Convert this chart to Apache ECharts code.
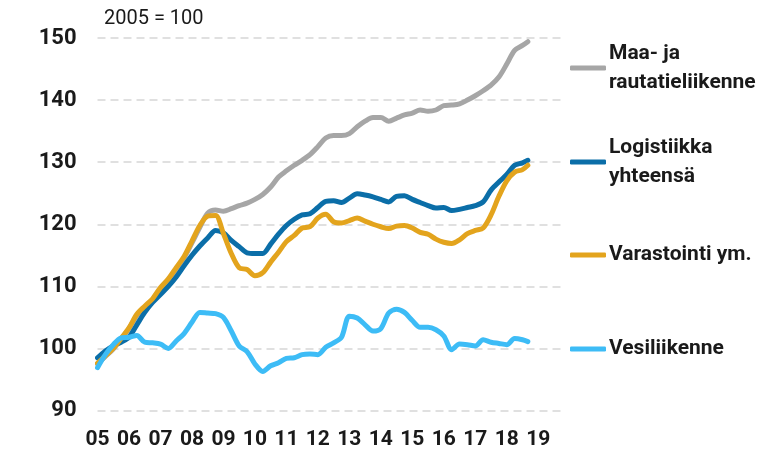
<!DOCTYPE html>
<html>
<head>
<meta charset="utf-8">
<script src="https://cdn.jsdelivr.net/npm/echarts@6/dist/echarts.min.js"></script>
<style>
  html, body { margin: 0; padding: 0; background: #fff; }
  #chart { width: 767px; height: 451px; }
</style>
</head>
<body>
<div id="chart"></div>
<script>
// aika (vuosi desimaalina, neljännesvuosittain)
const times = [
  2005.0, 2005.25, 2005.5, 2005.75, 2006.0, 2006.25, 2006.5, 2006.75,
  2007.0, 2007.25, 2007.5, 2007.75, 2008.0, 2008.25, 2008.5, 2008.75,
  2009.0, 2009.25, 2009.5, 2009.75, 2010.0, 2010.25, 2010.5, 2010.75,
  2011.0, 2011.25, 2011.5, 2011.75, 2012.0, 2012.25, 2012.5, 2012.75,
  2013.0, 2013.25, 2013.5, 2013.75, 2014.0, 2014.25, 2014.5, 2014.75,
  2015.0, 2015.25, 2015.5, 2015.75, 2016.0, 2016.25, 2016.5, 2016.75,
  2017.0, 2017.25, 2017.5, 2017.75, 2018.0, 2018.25, 2018.5, 2018.67
]

const maaJaRautatie = [
  97.5, 98.7, 99.9, 101.5, 103.2, 105.3, 106.6, 107.8,
  109.6, 111.0, 112.8, 114.6, 117.0, 119.5, 121.8, 122.3,
  122.1, 122.5, 123.0, 123.4, 124.0, 124.8, 126.0, 127.6,
  128.6, 129.5, 130.3, 131.2, 132.5, 133.9, 134.3, 134.3,
  134.6, 135.7, 136.6, 137.2, 137.2, 136.6, 137.1, 137.6,
  137.9, 138.4, 138.2, 138.4, 139.1, 139.2, 139.4, 140.0,
  140.7, 141.5, 142.4, 143.7, 145.8, 148.0, 148.8, 149.4
]

const logistiikka = [
  98.5, 99.6, 100.4, 101.0, 101.8, 103.8, 105.8, 107.4,
  108.7, 110.0, 111.5, 113.3, 115.0, 116.5, 117.8, 119.0,
  118.6, 117.4, 116.4, 115.4, 115.3, 115.3, 116.8, 118.4,
  119.8, 120.8, 121.5, 121.7, 122.7, 123.7, 123.8, 123.5,
  124.2, 124.9, 124.7, 124.4, 124.0, 123.6, 124.5, 124.6,
  124.0, 123.5, 123.0, 122.6, 122.7, 122.2, 122.4, 122.7,
  123.0, 123.6, 125.5, 126.8, 128.0, 129.5, 129.9, 130.3
]

const varastointi = [
  97.6, 98.8, 100.0, 101.6, 103.3, 105.5, 106.8, 108.0,
  109.8, 111.2, 113.0, 114.8, 117.3, 119.8, 121.3, 121.4,
  118.5, 115.3, 113.0, 112.7, 111.7, 112.2, 113.9, 115.5,
  117.2, 118.2, 119.4, 119.6, 121.0, 121.6, 120.4, 120.2,
  120.6, 121.0, 120.5, 120.0, 119.6, 119.3, 119.7, 119.8,
  119.4, 118.7, 118.4, 117.6, 117.1, 116.9, 117.5, 118.5,
  119.0, 119.4, 121.5, 124.5, 127.0, 128.4, 128.8, 129.5
]

const vesiliikenne = [
  96.9, 99.0, 100.6, 101.7, 101.8, 102.1, 101.0, 100.9,
  100.7, 100.0, 101.2, 102.4, 104.2, 105.8, 105.7, 105.6,
  105.0, 102.8, 100.4, 99.5, 97.5, 96.3, 97.2, 97.7,
  98.4, 98.5, 99.0, 99.1, 99.0, 100.2, 100.9, 101.8,
  105.2, 104.9, 103.8, 102.8, 103.2, 105.7, 106.3, 105.8,
  104.5, 103.4, 103.4, 103.0, 102.0, 99.8, 100.7, 100.6,
  100.4, 101.4, 101.0, 100.8, 100.6, 101.6, 101.4, 101.1
]

const yTicks = { min: 90, max: 150, interval: 10 }

const seriesDefs = [
  { name: 'Maa- ja rautatieliikenne', label: 'Maa- ja\nrautatieliikenne', data: maaJaRautatie, color: '#a6a6a6', legendTop: 24.5, twoLines: true },
  { name: 'Logistiikka yhteensä', label: 'Logistiikka\nyhteensä', data: logistiikka, color: '#0b6ea8', legendTop: 118.5, twoLines: true },
  { name: 'Varastointi ym.', label: 'Varastointi ym.', data: varastointi, color: '#e3a41d', legendTop: 240.5, twoLines: false },
  { name: 'Vesiliikenne', label: 'Vesiliikenne', data: vesiliikenne, color: '#3dbcf6', legendTop: 334.5, twoLines: false }
]

const textColor = '#1a1a1a'
const fontFamily = 'Roboto'

const chart = echarts.init(document.getElementById('chart'))

const options = {
  animation: false,
  title: {
    text: '2005 = 100',
    left: 104,
    top: 9,
    padding: 0,
    textStyle: {
      fontFamily: fontFamily,
      fontSize: 20,
      fontWeight: 'normal',
      color: textColor
    }
  },
  grid: {
    left: 97.5,
    right: 202,
    top: 38,
    bottom: 40.5
  },
  legend: seriesDefs.map(s => ({
    data: [s.name],
    left: 570,
    top: s.legendTop,
    padding: 0,
    orient: 'vertical',
    icon: 'roundRect',
    itemWidth: 36,
    itemHeight: 5,
    selectedMode: false,
    formatter: () => s.label,
    textStyle: {
      fontFamily: fontFamily,
      fontSize: 21,
      fontWeight: 'bold',
      color: textColor,
      lineHeight: 29,
      padding: s.twoLines ? [29, 0, 0, -2] : [0, 0, 0, -2]
    }
  })),
  xAxis: {
    type: 'value',
    min: 2005,
    max: 2019.85,
    interval: 1,
    axisLine: { show: false },
    axisTick: { show: false },
    splitLine: { show: false },
    axisLabel: {
      showMaxLabel: false,
      margin: 19,
      fontFamily: fontFamily,
      fontSize: 21,
      fontWeight: 'bold',
      color: textColor,
      formatter: v => Number.isInteger(v) ? String(v).slice(2) : ''
    }
  },
  yAxis: {
    type: 'value',
    min: yTicks.min,
    max: yTicks.max,
    interval: yTicks.interval,
    axisLine: { show: false },
    axisTick: { show: false },
    axisLabel: {
      margin: 21,
      fontFamily: fontFamily,
      fontSize: 22,
      fontWeight: 'bold',
      color: textColor
    },
    splitLine: {
      lineStyle: {
        color: '#d6d6d6',
        type: [8, 5],
        width: 1.5
      }
    }
  },
  series: seriesDefs.map(s => ({
    name: s.name,
    type: 'line',
    data: times.map((t, i) => [t, s.data[i]]),
    showSymbol: false,
    symbol: 'none',
    smooth: 0.3,
    color: s.color,
    lineStyle: {
      color: s.color,
      width: 5,
      cap: 'round',
      join: 'round'
    }
  }))
}

chart.setOption(options)
</script>
</body>
</html>
